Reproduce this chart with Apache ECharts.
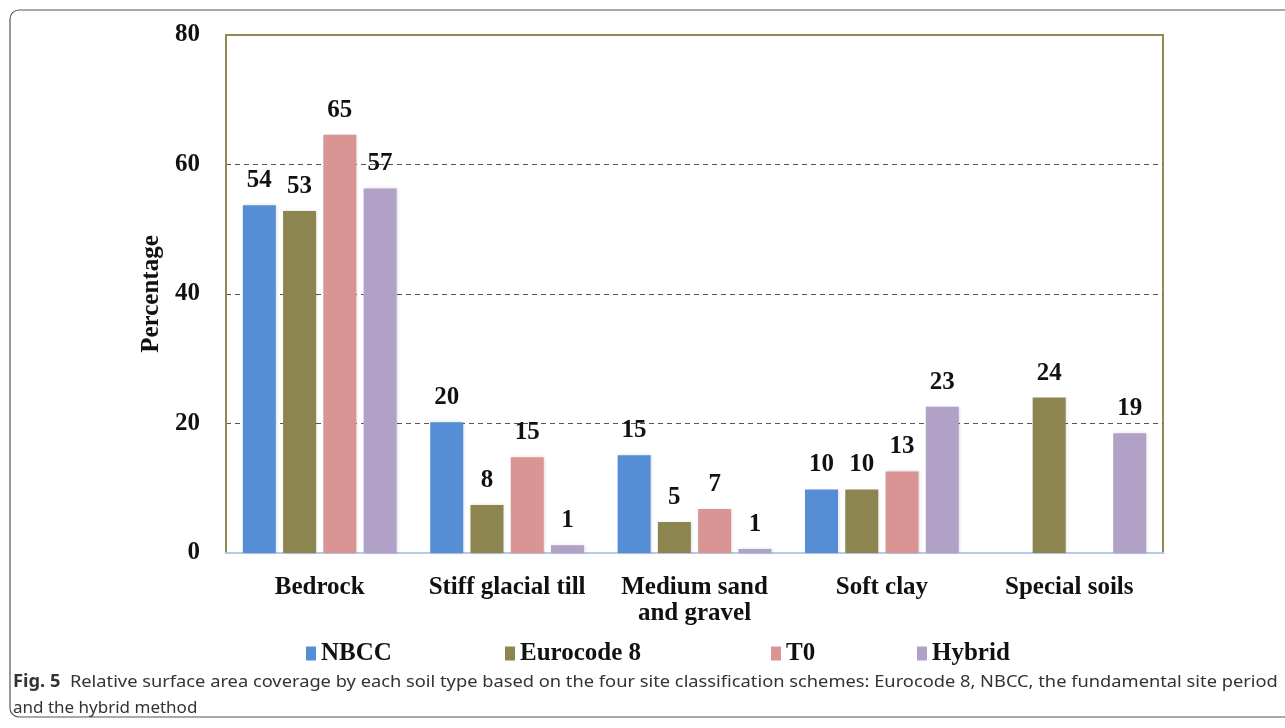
<!DOCTYPE html>
<html>
<head>
<meta charset="utf-8">
<script src="https://cdn.jsdelivr.net/npm/echarts@6/dist/echarts.min.js"></script>
<style>
  html, body { margin: 0; padding: 0; background: #fff; }
  #chart { width: 1285px; height: 728px; }
</style>
</head>
<body>
<div id="chart"></div>
<script>
// soil types on the x axis
const categories = ['Bedrock', 'Stiff glacial till', 'Medium sand\nand gravel', 'Soft clay', 'Special soils'];
const seriesNames = ['NBCC', 'Eurocode 8', 'T0', 'Hybrid'];
// bar heights (percent)
const nbcc = [53.7, 20.2, 15.1, 9.8, null];
const eurocode = [52.8, 7.4, 4.8, 9.8, 24.0];
const t0 = [64.6, 14.8, 6.8, 12.6, null];
const hybrid = [56.3, 1.2, 0.6, 22.6, 18.5];
// numbers printed over the bars
const nbccLabels = [54, 20, 15, 10, null];
const eurocodeLabels = [53, 8, 5, 10, 24];
const t0Labels = [65, 15, 7, 13, null];
const hybridLabels = [57, 1, 1, 23, 19];
const yTicks = [0, 20, 40, 60, 80];

const serif = 'Liberation Serif, Times New Roman, serif';
const sans = 'Noto Sans, sans-serif';

const chart = echarts.init(document.getElementById('chart'));

function barSeries(name, data, labels, color) {
  return {
    name: name,
    type: 'bar',
    data: data,
    barWidth: 33,
    barGap: '22%',
    itemStyle: { color: color, shadowColor: 'rgba(0,0,0,0.15)', shadowBlur: 3, shadowOffsetX: 1 },
    label: {
      show: true,
      position: 'top',
      distance: 12,
      fontFamily: serif,
      fontWeight: 'bold',
      fontSize: 25,
      color: '#111',
      formatter: p => labels[p.dataIndex] == null ? '' : String(labels[p.dataIndex])
    }
  };
}

// one legend per item so each sits where the original put it
const legendLefts = [301, 500, 766, 912];
const legends = seriesNames.map((n, i) => ({
  data: [n],
  left: legendLefts[i],
  top: 636,
  itemWidth: 10,
  itemHeight: 14,
  itemGap: 4,
  icon: 'rect',
  textStyle: { fontFamily: serif, fontWeight: 'bold', fontSize: 25, color: '#111' }
}));

const option = {
  animation: false,
  backgroundColor: '#fff',
  grid: {
    left: 226, top: 35, right: 122, bottom: 175,
    show: true,
    borderColor: '#938a4f',
    borderWidth: 2,
    backgroundColor: 'transparent'
  },
  legend: legends,
  xAxis: {
    type: 'category',
    data: categories,
    axisLine: { lineStyle: { color: '#b4cbe9', width: 2 } },
    axisTick: { show: false },
    axisLabel: {
      interval: 0,
      margin: 22,
      fontFamily: serif,
      fontWeight: 'bold',
      fontSize: 25,
      lineHeight: 26,
      color: '#111'
    }
  },
  yAxis: {
    type: 'value',
    min: yTicks[0],
    max: yTicks[yTicks.length - 1],
    interval: 20,
    name: 'Percentage',
    nameLocation: 'middle',
    nameGap: 62,
    nameRotate: 90,
    nameTextStyle: { fontFamily: serif, fontWeight: 'bold', fontSize: 25, color: '#111' },
    axisLine: { show: true, lineStyle: { color: '#938a4f', width: 2 } },
    axisTick: { show: false },
    axisLabel: { margin: 26, fontFamily: serif, fontWeight: 'bold', fontSize: 25, color: '#111' },
    splitLine: {
      show: true,
      lineStyle: { type: [5, 4], color: ['transparent', '#555', '#555', '#555', 'transparent'], width: 1 }
    }
  },
  series: [
    barSeries(seriesNames[0], nbcc, nbccLabels, '#558ed5'),
    barSeries(seriesNames[1], eurocode, eurocodeLabels, '#8d8550'),
    barSeries(seriesNames[2], t0, t0Labels, '#d99594'),
    barSeries(seriesNames[3], hybrid, hybridLabels, '#b2a1c7')
  ],
  graphic: [
    {
      type: 'rect',
      shape: { x: 10, y: 10, width: 1300, height: 707, r: 9 },
      style: { fill: 'none', stroke: '#555', lineWidth: 1.2 },
      silent: true
    },
    {
      // first caption line is justified in the original, so stretch it a bit
      type: 'text',
      x: 13,
      y: 669,
      scaleX: 1.075,
      style: {
        text: '{b|Fig. 5}  Relative surface area coverage by each soil type based on the four site classification schemes: Eurocode 8, NBCC, the fundamental site period',
        fontFamily: sans,
        fontSize: 17,
        lineHeight: 26,
        fill: '#333',
        rich: {
          b: { fontFamily: sans, fontWeight: 'bold', fontSize: 17, fill: '#333' }
        }
      }
    },
    {
      type: 'text',
      x: 13,
      y: 695,
      style: {
        text: 'and the hybrid method',
        fontFamily: sans,
        fontSize: 17,
        lineHeight: 26,
        fill: '#333'
      }
    }
  ]
};

chart.setOption(option);
</script>
</body>
</html>
